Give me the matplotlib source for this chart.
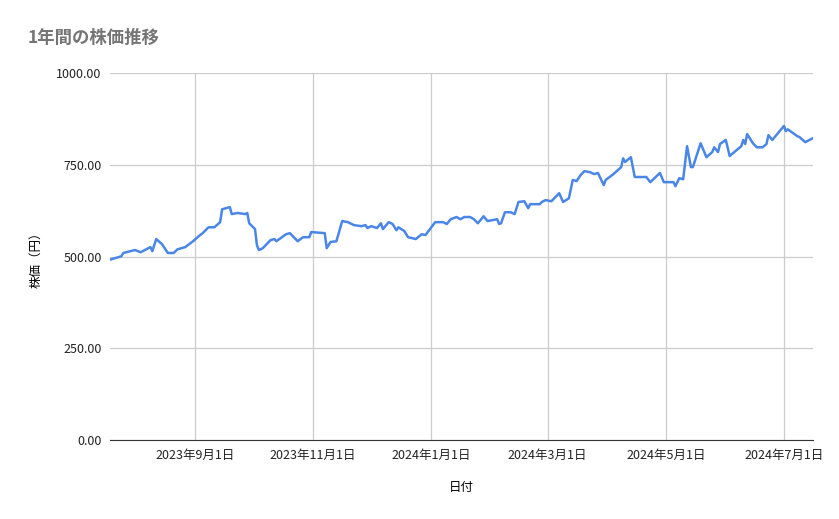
import matplotlib
matplotlib.use("Agg")
import matplotlib.pyplot as plt
import pandas as pd
from matplotlib.ticker import FuncFormatter

plt.rcParams['font.family'] = ['Noto Sans CJK JP', 'DejaVu Sans']

base_date = "2023-09-01"
day_offsets = [-45,-38,-37,-31,-28,-23,-22,-20,-17,-14,-11,-9,-5,-1,2,4,7,10,13,14,18,19,22,26,27,28,31,32,33,35,39,41,42,47,49,53,55,56,59,60,67,68,70,73,76,79,82,86,88,89,91,94,96,97,100,102,104,105,108,110,114,117,119,124,128,130,132,135,137,139,142,144,146,149,151,156,157,158,160,163,165,167,170,172,173,178,179,181,184,188,190,193,195,197,199,201,204,206,208,211,212,216,220,221,222,225,227,233,235,240,242,247,248,250,252,254,256,257,261,264,267,268,270,271,274,276,277,282,283,284,285,288,290,293,295,296,298,304,305,306,311,312,315,319]
prices = [490,501,510,518,512,526,515,548,534,510,510,520,526,542,556,564,580,580,594,629,635,616,619,616,619,591,575,531,518,523,545,548,542,561,564,542,550,553,553,567,564,523,540,542,597,594,586,583,586,578,583,578,591,575,594,589,572,580,570,553,548,561,559,594,594,589,602,608,602,608,608,602,591,610,597,602,589,591,621,621,616,649,651,632,643,643,649,654,651,673,649,659,709,706,722,733,730,725,728,695,709,725,744,768,758,771,717,717,703,728,703,703,692,714,711,801,744,744,809,771,785,798,785,807,818,774,779,801,818,807,834,809,798,798,807,831,818,856,842,847,828,826,812,823]
tick_dates = ["2023-09-01","2023-11-01","2024-01-01","2024-03-01","2024-05-01","2024-07-01"]
tick_labels = ["2023年9月1日","2023年11月1日","2024年1月1日","2024年3月1日","2024年5月1日","2024年7月1日"]
y_ticks = [0,250,500,750,1000]

dates = pd.Timestamp(base_date) + pd.to_timedelta(day_offsets, unit="D")

fig = plt.figure(figsize=(8.39, 5.19), dpi=100)
ax = fig.add_axes([0.131, 0.152, 0.838, 0.707])
ax.plot(dates, prices, color="#4a86e8", lw=1.8)
ax.set_xlim(pd.Timestamp(base_date) - pd.Timedelta(days=43.9), pd.Timestamp(base_date) + pd.Timedelta(days=319))
ax.set_ylim(0, 1000)
ax.set_xticks(pd.to_datetime(tick_dates))
ax.set_xticklabels(tick_labels)
ax.set_yticks(y_ticks)
ax.yaxis.set_major_formatter(FuncFormatter(lambda v, p: f"{v:.2f}"))
ax.grid(True, color="#cccccc", lw=0.9)
ax.set_axisbelow(True)
for s in ["top", "right", "left"]:
    ax.spines[s].set_visible(False)
ax.spines["bottom"].set_color("#333333")
ax.tick_params(length=0, labelsize=9, colors="#222222", pad=6)
ax.set_xlabel("日付", fontsize=9, labelpad=14)
ax.set_ylabel("株価（円）", fontsize=9, labelpad=10)
fig.text(28/839, 1-38/519, "1年間の株価推移", fontsize=12.5, color="#757575", va="center", fontweight="bold")
fig.savefig("out.png", dpi=100)
